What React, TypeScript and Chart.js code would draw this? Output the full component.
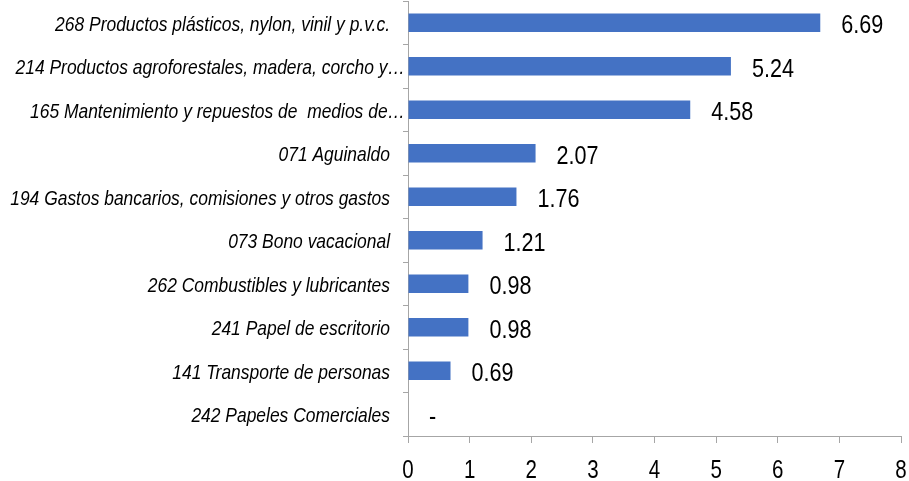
import React, { useEffect, useRef } from "react";
import { Chart, registerables } from "chart.js";

Chart.register(...registerables);

const categories = [
  "268 Productos plásticos, nylon, vinil y p.v.c.",
  "214 Productos agroforestales, madera, corcho y…",
  "165 Mantenimiento y repuestos de  medios de…",
  "071 Aguinaldo",
  "194 Gastos bancarios, comisiones y otros gastos",
  "073 Bono vacacional",
  "262 Combustibles y lubricantes",
  "241 Papel de escritorio",
  "141 Transporte de personas",
  "242 Papeles Comerciales",
];
const values = [6.69, 5.24, 4.58, 2.07, 1.76, 1.21, 0.98, 0.98, 0.69, 0];
const xTicks = [0, 1, 2, 3, 4, 5, 6, 7, 8];

const FAMILY = "'Liberation Sans', Arial, sans-serif";
const AXIS_GREY = "#a6a6a6";

function narrowText(ctx: any, txt: string, x: number, y: number, align: string, sx: number) {
  ctx.save();
  ctx.translate(x, y);
  ctx.scale(sx, 1);
  ctx.textAlign = align;
  ctx.fillText(txt, 0, 0);
  ctx.restore();
}

const textPlugin = {
  id: "textPlugin",
  afterDraw(chart: any) {
    const ctx = chart.ctx;
    const meta = chart.getDatasetMeta(0);
    const xs = chart.scales.x;
    const ys = chart.scales.y;
    ctx.save();
    ctx.fillStyle = "#000";
    ctx.textBaseline = "alphabetic";
    // value labels
    ctx.font = `26px ${FAMILY}`;
    meta.data.forEach((bar: any, i: number) => {
      const v = values[i];
      const txt = v === 0 ? "-" : v.toFixed(2);
      narrowText(ctx, txt, bar.x + 21, bar.y + 10.5, "left", 0.83);
    });
    // category labels (truncated ones run closer to the axis)
    ctx.font = `italic 21px ${FAMILY}`;
    categories.forEach((c, i) => {
      const gap = c.endsWith("…") ? 3 : 18;
      narrowText(ctx, c, xs.left - gap, ys.getPixelForValue(i) + 8, "right", 0.83);
    });
    // x tick labels
    ctx.font = `25px ${FAMILY}`;
    xTicks.forEach((t) => {
      narrowText(ctx, String(t), xs.getPixelForValue(t), 478, "center", 0.82);
    });
    ctx.restore();
  },
};

export default function App() {
  const ref = useRef<HTMLCanvasElement>(null);
  useEffect(() => {
    const chart = new Chart(ref.current!, {
      type: "bar",
      data: {
        labels: categories,
        datasets: [
          {
            data: values,
            backgroundColor: "#4472c4",
            borderWidth: 0,
            barPercentage: 0.42,
            categoryPercentage: 1,
          },
        ],
      },
      options: {
        indexAxis: "y",
        animation: false,
        responsive: false,
        maintainAspectRatio: false,
        layout: { padding: { top: 1, right: 8, left: 0, bottom: 0 } },
        plugins: { legend: { display: false }, tooltip: { enabled: false } },
        scales: {
          x: {
            min: 0,
            max: 8,
            afterBuildTicks(scale: any) {
              scale.ticks = xTicks.map((v) => ({ value: v }));
            },
            afterFit(scale: any) {
              scale.height = 45;
              scale.paddingLeft = 0;
              scale.paddingRight = 0;
            },
            grid: {
              display: true,
              drawOnChartArea: false,
              drawTicks: true,
              tickLength: 7,
              color: AXIS_GREY,
            },
            border: { display: true, color: AXIS_GREY },
            ticks: { display: false },
          },
          y: {
            afterFit(scale: any) {
              scale.width = 408;
              scale.paddingTop = 0;
              scale.paddingBottom = 0;
            },
            grid: {
              display: true,
              offset: true,
              drawOnChartArea: false,
              drawTicks: true,
              tickLength: 5,
              color: AXIS_GREY,
            },
            border: { display: true, color: AXIS_GREY },
            ticks: { display: false, autoSkip: false },
          },
        },
      },
      plugins: [textPlugin],
    });
    return () => chart.destroy();
  }, []);
  return (
    <div style={{ position: "fixed", left: 0, top: 0, width: 909, height: 481, background: "#fff" }}>
      <canvas ref={ref} width={909} height={481} style={{ display: "block" }} />
    </div>
  );
}
